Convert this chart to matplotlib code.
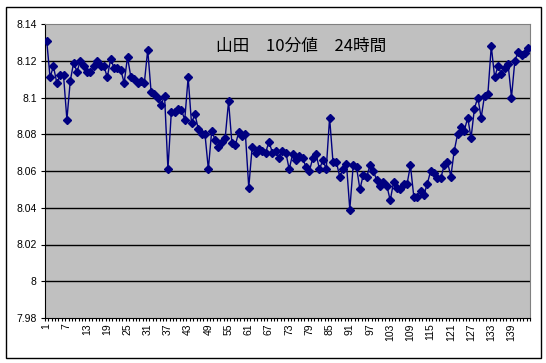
import matplotlib
matplotlib.use("Agg")
import matplotlib.pyplot as plt
from matplotlib.patches import Rectangle
import numpy as np

# 10-minute values over 24 hours (144 samples)
values = [
    8.131, 8.111, 8.117, 8.108, 8.112, 8.112, 8.088, 8.109, 8.119, 8.114,
    8.120, 8.117, 8.114, 8.114, 8.117, 8.120, 8.117, 8.117, 8.111, 8.121,
    8.116, 8.116, 8.115, 8.108, 8.122, 8.111, 8.110, 8.108, 8.109, 8.108,
    8.126, 8.103, 8.102, 8.100, 8.096, 8.101, 8.061, 8.092, 8.092, 8.094,
    8.093, 8.088, 8.111, 8.086, 8.091, 8.083, 8.080, 8.080, 8.061, 8.082,
    8.077, 8.073, 8.076, 8.078, 8.098, 8.075, 8.074, 8.081, 8.079, 8.080,
    8.051, 8.073, 8.070, 8.072, 8.071, 8.070, 8.076, 8.070, 8.071, 8.067,
    8.071, 8.070, 8.061, 8.069, 8.066, 8.068, 8.067, 8.062, 8.060, 8.067,
    8.069, 8.061, 8.066, 8.061, 8.089, 8.065, 8.065, 8.057, 8.061, 8.064,
    8.039, 8.063, 8.062, 8.050, 8.058, 8.057, 8.063, 8.060, 8.055, 8.052,
    8.054, 8.052, 8.044, 8.054, 8.051, 8.050, 8.053, 8.053, 8.063, 8.046,
    8.046, 8.049, 8.047, 8.053, 8.060, 8.059, 8.056, 8.056, 8.063, 8.065,
    8.057, 8.071, 8.080, 8.084, 8.082, 8.089, 8.078, 8.094, 8.100, 8.089,
    8.101, 8.102, 8.128, 8.111, 8.117, 8.113, 8.116, 8.118, 8.100, 8.120,
    8.125, 8.123, 8.124, 8.127,
]
samples = np.arange(1, len(values) + 1)
xtick_labels = [str(i) for i in range(1, 145, 6)]
ytick_values = [7.98, 8.0, 8.02, 8.04, 8.06, 8.08, 8.1, 8.12, 8.14]
ytick_labels = ["7.98", "8", "8.02", "8.04", "8.06", "8.08", "8.1", "8.12", "8.14"]
title = "山田\u300010分値\u300024時間"

fig = plt.figure(figsize=(5.46, 3.63), dpi=100)
fig.patch.set_facecolor("white")
ax = fig.add_axes([45 / 546, 1 - 318 / 363, 485 / 546, 294 / 363])
ax.set_facecolor("#C0C0C0")

for yv in ytick_values[1:-1]:
    ax.axhline(yv, color="black", lw=1.0, zorder=1)

ax.plot(samples, values, color="#000080", lw=1.0, marker="D", markersize=4.4,
        markerfacecolor="#000080", markeredgecolor="#000080", zorder=3)

ax.set_xlim(0.5, len(values) + 0.5)
ax.set_ylim(7.98, 8.14)

ax.set_yticks(ytick_values)
ax.set_yticklabels(ytick_labels, fontsize=7.5, family="Liberation Sans")
ax.set_xticks(list(range(1, 145, 6)))
ax.set_xticklabels(xtick_labels, rotation=90, fontsize=7.5, family="Liberation Sans")
ax.set_xticks(np.arange(0.5, len(values) + 1, 1), minor=True)
ax.tick_params(axis="x", which="major", length=0, pad=4)
ax.tick_params(axis="x", which="minor", length=2.5, width=0.8, direction="out")
ax.tick_params(axis="y", length=3, width=0.8, pad=3)

ax.spines["left"].set_color("black")
ax.spines["bottom"].set_color("black")
ax.spines["top"].set_color("#808080")
ax.spines["right"].set_color("#808080")

fig.text(301 / 546, 1 - 46 / 363, title, ha="center", va="center",
         fontsize=12, family=["Noto Sans CJK JP", "DejaVu Sans"])

fig.patches.append(Rectangle((5.5 / 546, 5.5 / 363), 535 / 546, 351 / 363,
                             transform=fig.transFigure, fill=False,
                             edgecolor="black", lw=1.0))

plt.savefig("out.png", dpi=100)
